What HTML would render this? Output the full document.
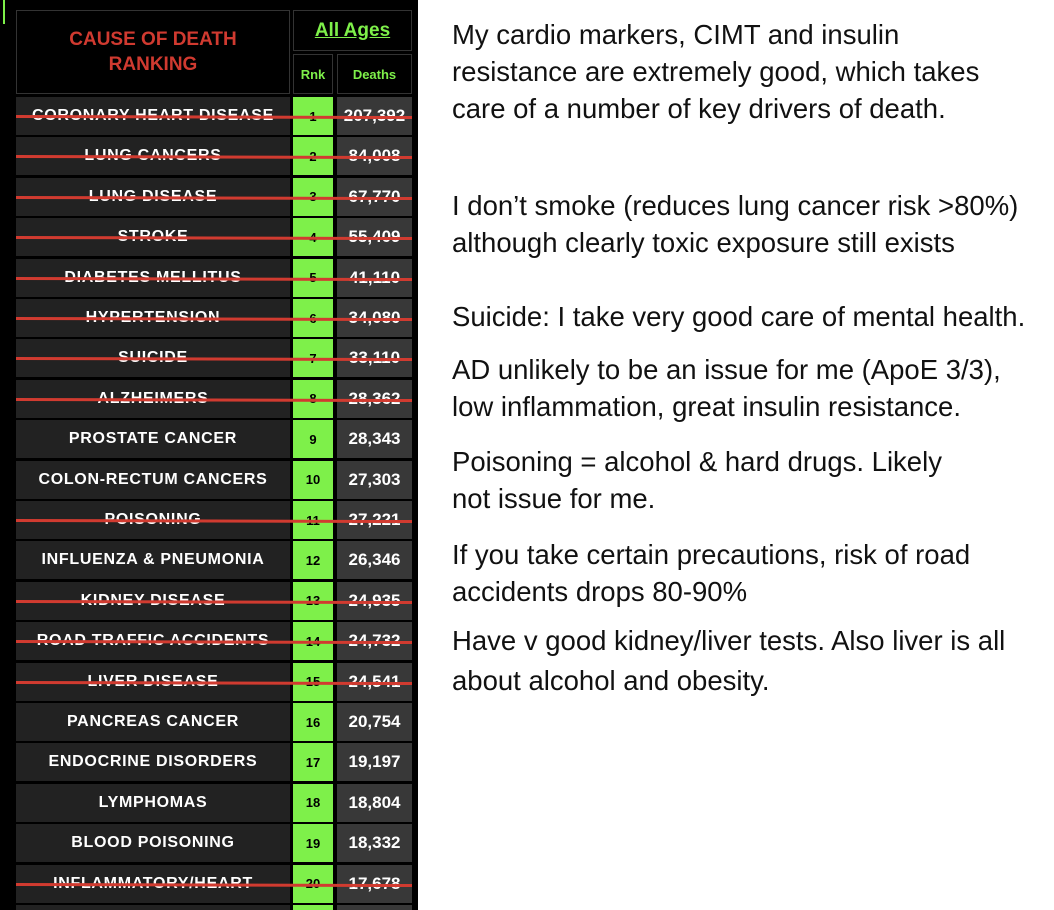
<!DOCTYPE html>
<html><head><meta charset="utf-8">
<style>
html,body{overflow:hidden}
body{margin:0;width:1054px;height:910px;background:#fff;position:relative;overflow:hidden;font-family:"Liberation Sans",sans-serif}
#panel{position:absolute;left:0;top:0;width:418px;height:910px;background:#000;overflow:hidden}
.c{position:absolute;display:flex;align-items:center;justify-content:center;font-weight:bold;box-sizing:border-box}
.strike{position:absolute;height:3px;background:#d13b30;transform-origin:left center}
.note{position:absolute;left:452px;font-size:27.5px;color:#111;line-height:37px;white-space:nowrap}
</style></head><body>
<div id="panel">
<div style="position:absolute;left:3px;top:0;width:2px;height:24px;background:#7ef04a"></div>
<div class="c" style="left:16px;top:10px;width:274px;height:84px;background:#000;border:1px solid #333;color:#d03a30;font-size:19px;text-align:center;line-height:25px">CAUSE OF DEATH<br>RANKING</div>
<div class="c" style="left:293px;top:10px;width:119px;height:41px;border:1px solid #333;color:#7ef04a;font-size:19px;text-decoration:underline">All Ages</div>
<div class="c" style="left:293px;top:54px;width:40px;height:40px;border:1px solid #333;color:#7ef04a;font-size:13px">Rnk</div>
<div class="c" style="left:337px;top:54px;width:75px;height:40px;border:1px solid #333;color:#7ef04a;font-size:13px">Deaths</div>
</div>
<div id="notes">
<div class="note" style="top:16px">My cardio markers, CIMT and insulin<br>resistance are extremely good, which takes<br>care of a number of key drivers of death.</div>
<div class="note" style="top:187px">I don’t smoke (reduces lung cancer risk &gt;80%)<br>although clearly toxic exposure still exists</div>
<div class="note" style="top:298px">Suicide: I take very good care of mental health.</div>
<div class="note" style="top:351px">AD unlikely to be an issue for me (ApoE 3/3),<br>low inflammation, great insulin resistance.</div>
<div class="note" style="top:443px">Poisoning = alcohol &amp; hard drugs. Likely<br>not issue for me.</div>
<div class="note" style="top:536px">If you take certain precautions, risk of road<br>accidents drops 80-90%</div>
<div class="note" style="top:621px;line-height:40px">Have v good kidney/liver tests. Also liver is all<br>about alcohol and obesity.</div>
</div>
<script>
const causes=["CORONARY HEART DISEASE","LUNG CANCERS","LUNG DISEASE","STROKE","DIABETES MELLITUS","HYPERTENSION","SUICIDE","ALZHEIMERS","PROSTATE CANCER","COLON-RECTUM CANCERS","POISONING","INFLUENZA & PNEUMONIA","KIDNEY DISEASE","ROAD TRAFFIC ACCIDENTS","LIVER DISEASE","PANCREAS CANCER","ENDOCRINE DISORDERS","LYMPHOMAS","BLOOD POISONING","INFLAMMATORY/HEART"];
const deaths=["207,392","84,008","67,770","55,409","41,110","34,080","33,110","28,362","28,343","27,303","27,221","26,346","24,935","24,732","24,541","20,754","19,197","18,804","18,332","17,678"];
const struck=[1,2,3,4,5,6,7,8,11,13,14,15,20];
const panel=document.getElementById('panel');
function rowTop(i){return 97+i*40.4;}
for(let i=0;i<=causes.length;i++){
  const t=rowTop(i);
  const name=document.createElement('div');name.className='c';
  
  
  name.style.cssText=`left:16px;top:${t}px;width:274px;height:38px;background:#222;color:#fff;font-size:16px;letter-spacing:0.7px`;
  name.textContent=causes[i]||'';panel.appendChild(name);
  const rk=document.createElement('div');rk.className='c';
  
  
  rk.style.cssText=`left:293px;top:${t}px;width:40px;height:38px;background:#7ef04a;color:#000;font-size:13px`;
  rk.textContent=i<causes.length?String(i+1):'';panel.appendChild(rk);
  const d=document.createElement('div');d.className='c';
  
  
  d.style.cssText=`left:337px;top:${t}px;width:75px;height:38px;background:#383838;color:#fff;font-size:17px`;
  d.textContent=deaths[i]||'';panel.appendChild(d);
}
struck.forEach(r=>{
  const s=document.createElement('div');s.className='strike';
  
  
  const y=rowTop(r-1)+18;
  s.style.cssText=`left:16px;top:${y}px;width:396px;transform:rotate(0.15deg)`;
  panel.appendChild(s);
});
</script>
</body></html>
